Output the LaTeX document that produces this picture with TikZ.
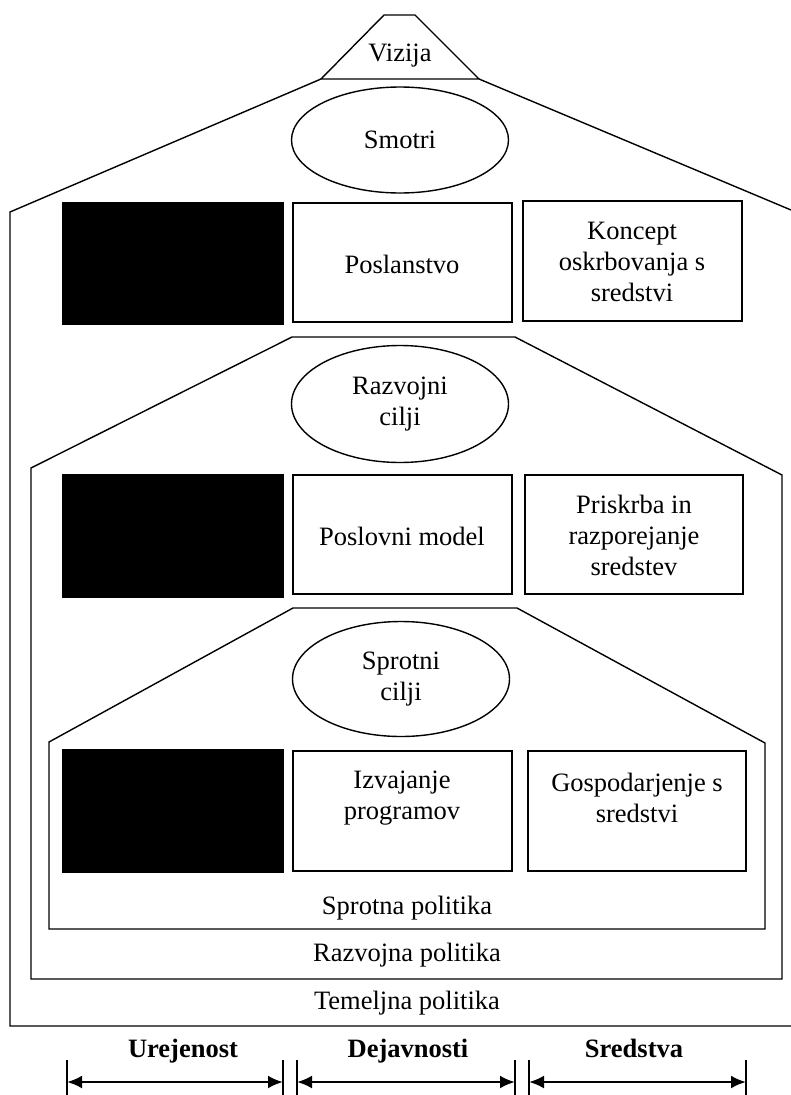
\documentclass[tikz,border=0pt]{standalone}
\usepackage{fontspec}
\setmainfont{Liberation Serif}
\usetikzlibrary{shapes.geometric,arrows.meta}
\begin{document}
\begin{tikzpicture}[x=1pt,y=-1pt,line width=1.4pt,line join=miter,
  txt/.style={font=\fontsize{26.5}{31}\selectfont,align=center,inner sep=0pt},
  bold/.style={font=\fontsize{26.5}{31}\selectfont\bfseries,inner sep=0pt,anchor=base},
  wbox/.style={draw,rectangle,inner sep=0pt},
  bbox/.style={draw,fill=black,rectangle,inner sep=0pt},
  goal/.style={draw,ellipse,inner sep=0pt,minimum width=217pt,minimum height=106pt,align=center,font=\fontsize{26.5}{31}\selectfont},
  span/.style={{Latex[length=15pt,width=13pt]}-{Latex[length=15pt,width=13pt]},line width=2.4pt},
  tick/.style={line width=1.4pt}]
\useasboundingbox (0,0) rectangle (791,1095);

% Vizija trapezoid
\draw (321,79) -- (384,15) -- (415,15) -- (479,79) -- cycle;
\node[txt] (vizija) at (400,56) {Vizija};

% outer shape (Temeljna politika)
\draw (321,79) -- (10,212) -- (10,1026) -- (791,1026);
\draw (479,79) -- (791,210);

% Razvojna politika shape
\draw (292,337) -- (31,468) -- (31,979) -- (782,979) -- (782,475) -- (515,337) -- cycle;

% Sprotna politika shape
\draw (293,608) -- (49,742) -- (49,929) -- (765,929) -- (765,743) -- (517,608) -- cycle;

% ellipses
\node[goal,minimum height=106pt] (smotri) at (400,140) {Smotri};
\node[goal,minimum height=117pt] (razcilji) at (400,404) {Razvojni\\cilji};
\node[goal,minimum height=115pt] (sprcilji) at (401,679) {Sprotni\\cilji};

% row 1
\node[bbox,minimum width=220pt,minimum height=121pt] (b1) at (173,263.5) {};
\node[wbox,minimum width=219pt,minimum height=119pt] (poslanstvo) at (402.5,262.5) {};
\node[txt] (tposlanstvo) at (402,264) {Poslanstvo};
\node[wbox,minimum width=219pt,minimum height=120pt] (koncept) at (632.5,261) {};
\node[txt] (tkoncept) at (632,262) {Koncept\\oskrbovanja s\\sredstvi};

% row 2
\node[bbox,minimum width=220pt,minimum height=122pt] (b2) at (173,536) {};
\node[wbox,minimum width=219pt,minimum height=119pt] (poslovni) at (402.5,534.5) {};
\node[txt] (tposlovni) at (402,536) {Poslovni model};
\node[wbox,minimum width=218pt,minimum height=119pt] (priskrba) at (634,534.5) {};
\node[txt] (tpriskrba) at (634,535) {Priskrba in\\razporejanje\\sredstev};

% row 3
\node[bbox,minimum width=220pt,minimum height=122pt] (b3) at (173,811) {};
\node[wbox,minimum width=219pt,minimum height=120pt] (izvajanje) at (402.5,811) {};
\node[txt] (tizvajanje) at (402,798) {Izvajanje\\programov};
\node[wbox,minimum width=218pt,minimum height=120pt] (gospod) at (637,811) {};
\node[txt] (tgospod) at (637,798) {Gospodarjenje s\\sredstvi};

% policy labels
\node[txt] (sprpol) at (407,908) {Sprotna politika};
\node[txt] (razpol) at (407,955) {Razvojna politika};
\node[txt] (tempol) at (407,1003) {Temeljna politika};

% bottom labels
\node[bold] (urej) at (183,1057) {Urejenost};
\node[bold] (dej) at (408,1057) {Dejavnosti};
\node[bold] (sred) at (634,1057) {Sredstva};

% bottom spans
\coordinate (a1) at (67,1082);
\coordinate (a2) at (283,1082);
\coordinate (a3) at (297,1082);
\coordinate (a4) at (515,1082);
\coordinate (a5) at (529,1082);
\coordinate (a6) at (746,1082);
\foreach \c in {a1,a2,a3,a4,a5,a6}{
  \draw[tick] ([yshift=22pt]\c) -- ([yshift=-14pt]\c);
}
\draw[span] (a1) -- (a2);
\draw[span] (a3) -- (a4);
\draw[span] (a5) -- (a6);
\end{tikzpicture}
\end{document}
